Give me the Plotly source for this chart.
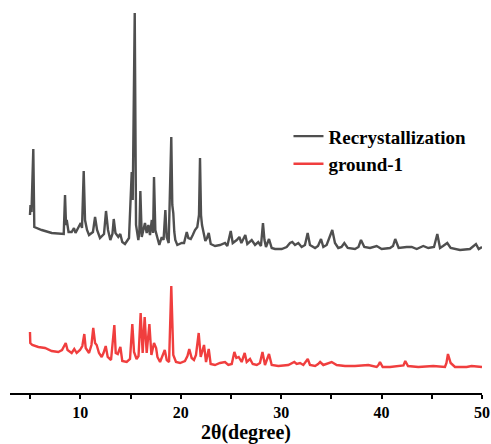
import plotly.graph_objects as go

# Powder XRD patterns, intensity in arbitrary units (counts, background included)
two_theta_recryst = [
    4.99, 5.04, 5.14, 5.32, 5.42, 6.16, 7.15, 8.15, 8.35, 8.48, 8.58, 8.65, 8.83, 9.14,
    9.37, 9.52, 9.80, 10.04, 10.17, 10.34, 10.47, 10.67, 10.87, 11.26, 11.47, 11.67,
    11.96, 12.36, 12.56, 12.76, 12.99, 13.20, 13.33, 13.50, 13.78, 13.98, 14.18, 14.45,
    14.85, 15.12, 15.22, 15.42, 15.55, 15.78, 15.88, 15.98, 16.12, 16.44, 16.61, 16.78,
    16.94, 17.12, 17.25, 17.34, 17.47, 17.68, 17.87, 18.11, 18.29, 18.47, 18.60, 18.80,
    19.06, 19.16, 19.26, 19.36, 19.46, 19.66, 20.10, 20.33, 20.60, 20.76, 21.00, 21.20,
    21.42, 21.65, 21.82, 21.92, 22.02, 22.12, 22.25, 22.45, 22.62, 22.79, 22.99, 23.42,
    23.91, 24.41, 24.64, 24.98, 25.18, 25.58, 25.84, 26.04, 26.43, 26.63, 27.07, 27.40,
    27.72, 27.99, 28.19, 28.34, 28.49, 28.79, 29.06, 29.39, 30.05, 30.55, 30.88, 31.11,
    31.38, 31.71, 32.04, 32.37, 32.64, 32.87, 33.38, 33.67, 33.97, 34.20, 34.53, 34.86,
    35.09, 35.36, 35.69, 36.01, 36.29, 36.63, 37.35, 37.70, 37.95, 38.28, 38.85, 39.51,
    40.01, 40.84, 41.14, 41.36, 41.70, 42.50, 43.00, 43.50, 44.15, 44.65, 45.22, 45.55,
    45.82, 46.12, 46.54, 46.88, 47.81, 48.80, 49.20, 49.40, 49.67, 50.00,
]
intensity_recryst = [
    58, 68, 61, 124, 46, 43, 40, 39, 39, 78, 48, 53, 41, 41,
    45, 40, 46, 50, 45, 102, 53, 43, 38, 41, 56, 43,
    35, 39, 62, 43, 33, 39, 54, 40, 36, 39, 31, 29,
    35, 101, 73, 260, 48, 33, 41, 82, 36, 50, 40, 48,
    38, 53, 40, 96, 43, 35, 28, 36, 33, 63, 36, 30,
    136, 68, 60, 41, 33, 28, 30, 30, 41, 35, 34, 38,
    43, 46, 58, 115, 58, 48, 40, 32, 35, 40, 29, 27,
    28, 30, 27, 42, 30, 33, 36, 30, 38, 29, 33, 28,
    31, 27, 50, 33, 26, 34, 25, 24, 24, 26, 30, 31,
    28, 30, 26, 28, 40, 28, 25, 27, 34, 26, 28, 36,
    43, 30, 25, 26, 30, 25, 24, 26, 33, 26, 25, 27,
    24, 25, 27, 34, 25, 26, 26, 24, 27, 25, 26, 39,
    25, 27, 30, 25, 23, 24, 27, 29, 24, 26,
]

two_theta_ground = [
    4.99, 5.02, 5.22, 5.82, 6.49, 7.15, 7.81, 8.18, 8.55, 8.73, 9.14, 9.40, 9.64, 9.97,
    10.20, 10.40, 10.54, 10.87, 11.11, 11.29, 11.47, 11.63, 11.86, 12.13, 12.31, 12.53,
    12.73, 13.06, 13.39, 13.53, 13.73, 13.99, 14.18, 14.62, 14.95, 15.18, 15.35, 15.60,
    15.80, 16.01, 16.21, 16.41, 16.61, 16.88, 17.08, 17.34, 17.55, 17.68, 17.94, 18.21,
    18.41, 18.61, 18.84, 19.06, 19.26, 19.53, 19.93, 20.42, 20.67, 20.85, 21.09, 21.32,
    21.52, 21.79, 21.99, 22.32, 22.52, 22.79, 22.98, 23.41, 23.91, 24.41, 24.74, 25.08,
    25.34, 25.54, 25.77, 26.07, 26.37, 26.57, 26.90, 27.17, 27.57, 27.89, 28.14, 28.39,
    28.79, 29.06, 29.72, 30.71, 31.05, 31.31, 31.55, 31.88, 32.21, 32.65, 32.87, 33.38,
    33.68, 33.88, 34.20, 34.70, 35.03, 35.53, 36.36, 37.35, 38.68, 39.51, 39.69, 39.84,
    40.11, 40.84, 41.83, 42.18, 42.36, 42.63, 43.66, 45.15, 46.31, 46.46, 46.61, 46.88,
    47.31, 48.47, 48.97, 50.00,
]
intensity_ground = [
    61, 50, 48, 46, 45, 42, 41, 43, 50, 43, 40, 44, 40, 43,
    47, 59, 45, 40, 48, 65, 50, 48, 40, 36, 40, 47,
    36, 33, 68, 40, 39, 46, 32, 31, 34, 69, 41, 34,
    37, 80, 40, 76, 40, 69, 38, 50, 45, 36, 31, 38,
    43, 33, 31, 107, 38, 31, 30, 32, 37, 44, 35, 33,
    38, 60, 36, 48, 31, 44, 29, 28, 30, 31, 28, 29,
    41, 35, 36, 31, 40, 31, 34, 29, 28, 30, 41, 28,
    39, 28, 27, 28, 30, 31, 29, 30, 28, 34, 28, 27,
    29, 31, 28, 30, 31, 28, 27, 27, 28, 26, 28, 31,
    26, 26, 27, 27.5, 32, 27, 26, 27, 26, 30, 39, 30,
    26, 26, 27, 26,
]

# vertical shift used to stack the upper pattern above the lower one
stack_offset = 120

series_names = ["Recrystallization", "ground-1"]
series_colors = ["#4f4f4f", "#f03e3e"]
x_ticks = [5, 10, 15, 20, 25, 30, 35, 40, 45, 50]
x_tick_text = ["", "10", "", "20", "", "30", "", "40", "", "50"]

serif = "Times New Roman, Liberation Serif, serif"

fig = go.Figure()
fig.add_trace(go.Scatter(
    x=two_theta_recryst,
    y=[v + stack_offset for v in intensity_recryst],
    mode="lines",
    name=series_names[0],
    line=dict(color=series_colors[0], width=2.4),
))
fig.add_trace(go.Scatter(
    x=two_theta_ground,
    y=intensity_ground,
    mode="lines",
    name=series_names[1],
    line=dict(color=series_colors[1], width=2.4),
))

fig.update_layout(
    width=491,
    height=444,
    margin=dict(l=10, r=9, t=10, b=51),
    paper_bgcolor="white",
    plot_bgcolor="white",
    showlegend=True,
    legend=dict(
        x=0.59,
        y=0.72,
        xanchor="left",
        yanchor="top",
        bgcolor="rgba(0,0,0,0)",
        font=dict(family=serif, size=19, color="black", weight="bold"),
        tracegroupgap=0,
    ),
    xaxis=dict(
        range=[3, 50],
        automargin=False,
        showline=True,
        linecolor="black",
        linewidth=2,
        mirror=False,
        showgrid=False,
        zeroline=False,
        ticks="outside",
        ticklen=4,
        tickwidth=1.5,
        tickcolor="black",
        tickvals=x_ticks,
        ticktext=x_tick_text,
        tickfont=dict(family=serif, size=16, color="black", weight="bold"),
        title=dict(
            text="2θ(degree)",
            font=dict(family=serif, size=20, color="black", weight="bold"),
            standoff=5,
        ),
    ),
    yaxis=dict(
        range=[0, 383],
        visible=False,
        showgrid=False,
        zeroline=False,
    ),
)

fig.write_html("out.html")
